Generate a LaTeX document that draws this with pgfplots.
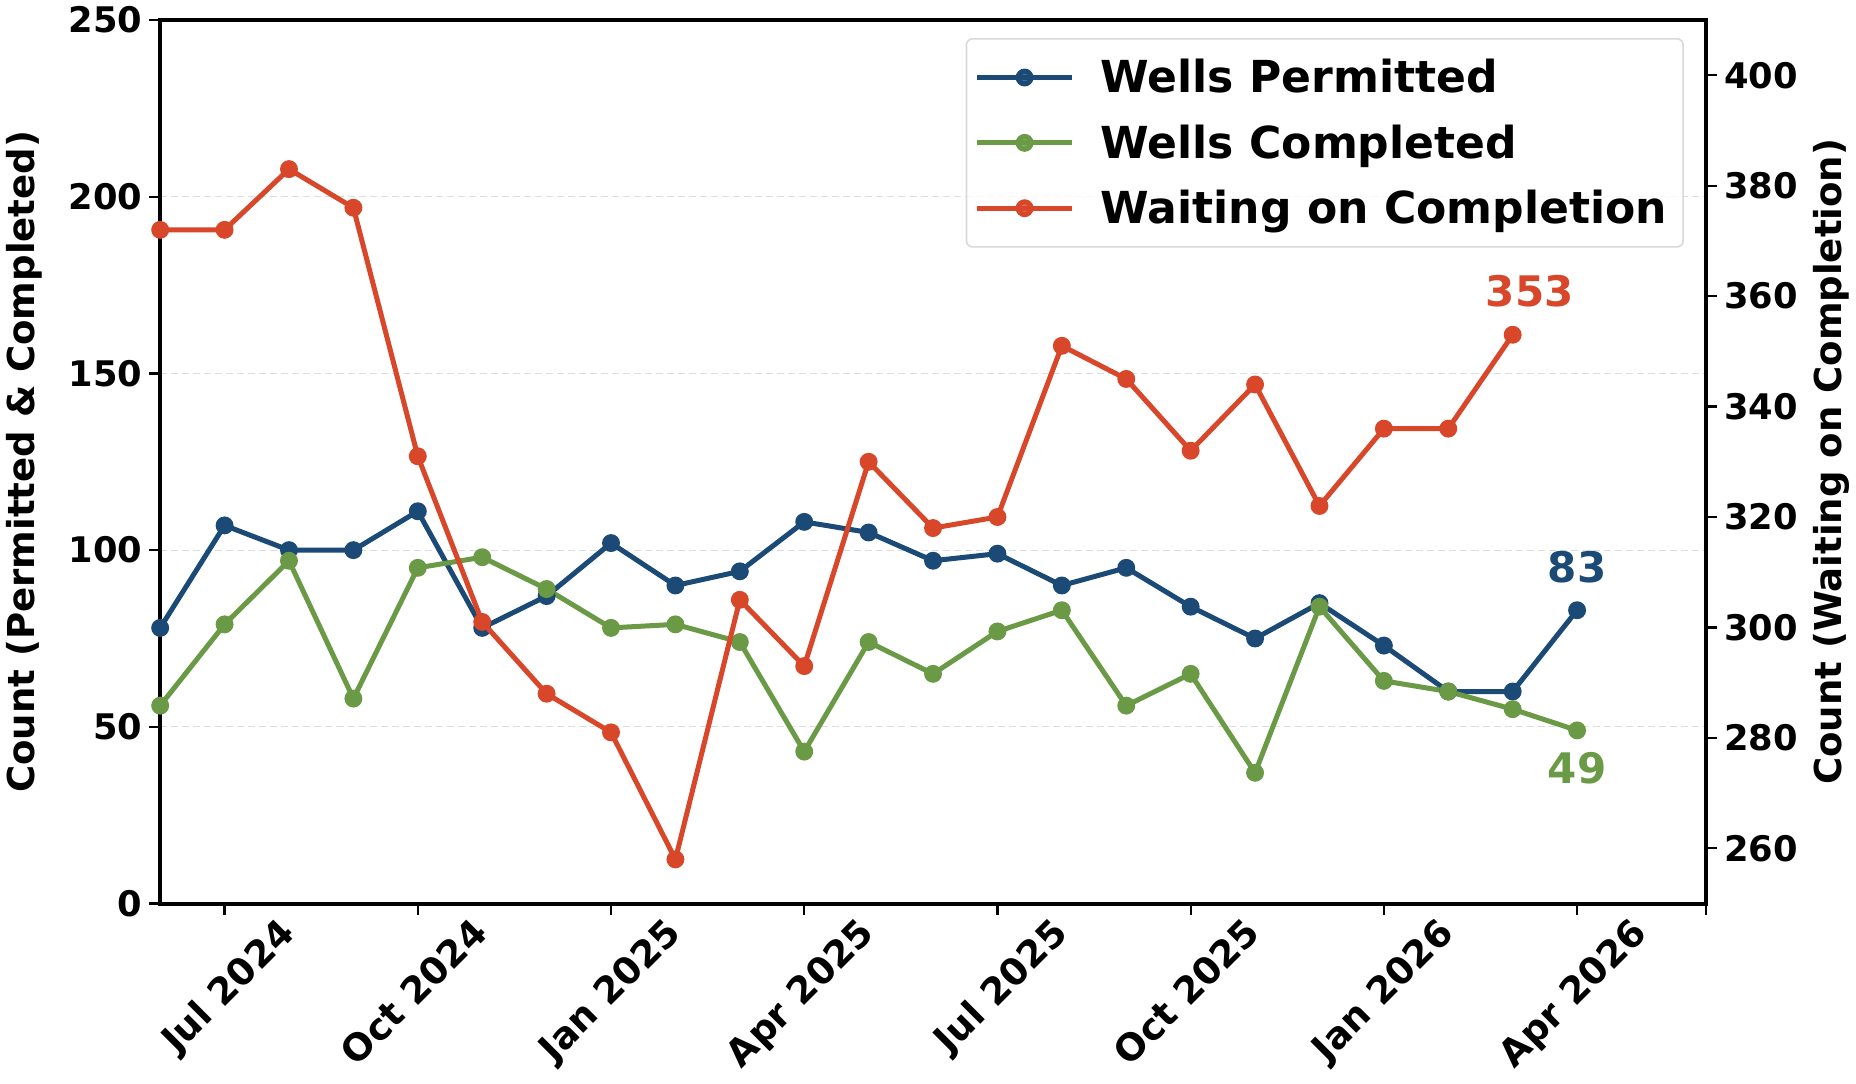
\documentclass[border=0pt]{standalone}
\usepackage{pgfplots}
\pgfplotsset{compat=1.18}
\usepackage{fontspec}
\setmainfont{DejaVu Sans}
\definecolor{cblue}{HTML}{1A4A75}
\definecolor{cgreen}{HTML}{6A9A45}
\definecolor{cred}{HTML}{D8472A}
\definecolor{cgrid}{HTML}{DDDDDD}

\pgfplotstableread{
idx perm
0 78
1 107
2 100
3 100
4 111
5 78
6 87
7 102
8 90
9 94
10 108
11 105
12 97
13 99
14 90
15 95
16 84
17 75
18 85
19 73
20 60
21 60
22 83
}\permtable
\pgfplotstableread{
idx comp
0 56
1 79
2 97
3 58
4 95
5 98
6 89
7 78
8 79
9 74
10 43
11 74
12 65
13 77
14 83
15 56
16 65
17 37
18 84
19 63
20 60
21 55
22 49
}\comptable
\pgfplotstableread{
idx wait
0 372
1 372
2 383
3 376
4 331
5 301
6 288
7 281
8 258
9 305
10 293
11 330
12 318
13 320
14 351
15 345
16 332
17 344
18 322
19 336
20 336
21 353
}\waittable

\pgfplotsset{
  base/.style={
    width=771.5pt, height=441pt, scale only axis,
    xmin=0, xmax=24,
    axis line style={line width=2pt},
    tick style={line width=1.1pt, black},
    tick align=outside,
    major tick length=5.5pt,
    /pgf/number format/assume math mode=true,
    yticklabel style={font=\bfseries\fontsize{17.6}{21}\selectfont},
    xticklabel style={font=\bfseries\fontsize{18.5}{22}\selectfont},
    label style={font=\bfseries\fontsize{18.5}{22}\selectfont},
  },
  ser/.style={line width=2.5pt, mark=*, mark size=3.2pt, mark options={solid}},
}

\begin{document}
\begin{tikzpicture}
\begin{axis}[base,
  ymin=0, ymax=250,
  ytick={0,50,100,150,200,250},
  xtick={1,4,7,10,13,16,19,22,24},
  xticklabels={Jul 2024,Oct 2024,Jan 2025,Apr 2025,Jul 2025,Oct 2025,Jan 2026,Apr 2026,{}},
  xtick pos=left, ytick pos=left,
  xticklabel style={xshift=26pt, yshift=4.5pt, rotate=45, anchor=north east},
  ymajorgrids, grid style={cgrid, dashed, line width=0.6pt, dash pattern=on 3.5pt off 2pt},
  ylabel={Count (Permitted \& Completed)},
  ylabel style={at={(axis description cs:-0.0877,0.5)}, anchor=center},
]
\addplot[ser, color=cblue] table[x=idx, y=perm] {\permtable};
\addplot[ser, color=cgreen] table[x=idx, y=comp] {\comptable};
\node[anchor=base, text=cblue, font=\bfseries\fontsize{21}{25}\selectfont, yshift=14pt] at (axis cs:22,83) {83};
\node[anchor=north, inner sep=0pt, text=cgreen, font=\bfseries\fontsize{21}{25}\selectfont, yshift=-10.5pt] at (axis cs:22,49) {49};
\end{axis}
\begin{axis}[base,
  ymin=250, ymax=410,
  ytick={260,280,300,320,340,360,380,400},
  axis x line=none,
  axis y line*=right,
  ytick pos=right,
  ylabel={Count (Waiting on Completion)},
  ylabel style={at={(axis description cs:1.0811,0.5)}, anchor=center, rotate=0},
  legend cell align=left,
  legend image code/.code={\draw[#1, mark repeat=2, mark phase=2] plot coordinates {(0pt,0pt) (23.75pt,0pt) (47.5pt,0pt)};},
  legend style={at={(axis description cs:1,1)}, anchor=north east, xshift=-11pt, yshift=-9pt,
    draw=black!15, line width=0.8pt, rounded corners=3pt, fill=white, fill opacity=0.8, text opacity=1,
    font=\bfseries\fontsize{22}{26}\selectfont, inner xsep=4pt, inner ysep=3pt,
    nodes={inner ysep=7.2pt, inner xsep=4pt},
    column sep=9pt},
]
\addlegendimage{ser, color=cblue}
\addlegendentry{Wells Permitted}
\addlegendimage{ser, color=cgreen}
\addlegendentry{Wells Completed}
\addplot[ser, color=cred] table[x=idx, y=wait] {\waittable};
\addlegendentry{Waiting on Completion}
\node[anchor=base, text=cred, font=\bfseries\fontsize{21}{25}\selectfont, xshift=8.5pt, yshift=14pt] at (axis cs:21,353) {353};
\end{axis}
\end{tikzpicture}
\end{document}
